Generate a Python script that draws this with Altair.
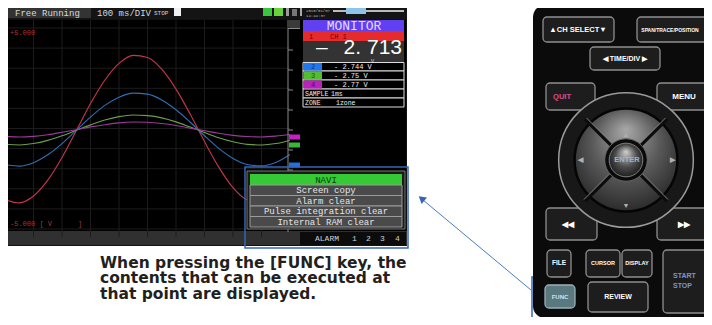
import altair as alt
import pandas as pd

# ---------------- data ----------------
time_ms = [0, 50, 100, 150, 200, 250, 300, 350, 400, 450, 500,
           550, 600, 650, 700, 750, 800, 850, 900, 950, 1000]
ch1_v = [-3.54, -3.70, -3.36, -2.57, -1.44, -0.11, 1.24, 2.40, 3.24, 3.64, 3.53,
         2.95, 1.96, 0.71, -0.65, -1.92, -2.94, -3.56, -3.70, -3.34, -2.53]
ch2_v = [-1.79, -1.87, -1.70, -1.31, -0.75, -0.09, 0.57, 1.15, 1.56, 1.76, 1.71,
         1.42, 0.93, 0.31, -0.36, -0.99, -1.49, -1.79, -1.86, -1.69, -1.29]
ch3_v = [-0.79, -0.82, -0.75, -0.59, -0.36, -0.09, 0.18, 0.42, 0.59, 0.67, 0.64,
         0.53, 0.33, 0.07, -0.20, -0.46, -0.66, -0.79, -0.82, -0.75, -0.58]
ch4_v = [-0.40, -0.42, -0.39, -0.31, -0.19, -0.06, 0.08, 0.19, 0.28, 0.32, 0.31,
         0.25, 0.15, 0.02, -0.11, -0.24, -0.34, -0.40, -0.42, -0.38, -0.30]
channels = ["CH1", "CH2", "CH3", "CH4"]
trace_colors = ["#c8364a", "#2f6fb5", "#6a9f4a", "#9a3a9a"]
grid_ms = [100, 200, 300, 400, 500, 600, 700, 800, 900]
grid_v = [-4, -3, -2, -1, 0, 1, 2, 3, 4]

menu_items = ["NAVI", "Screen copy", "Alarm clear", "Pulse integration clear", "Internal RAM clear"]
monitor_main = "2. 713"
monitor_rows = ["- 2.744  V", "- 2.75  V", "- 2.77  V"]
alarm_labels = ["ALARM", "1", "2", "3", "4"]
caption_lines = ["When pressing the [FUNC] key, the",
                 "contents that can be executed at",
                 "that point are displayed."]

# ---------------- scales (picture pixels -> chart pixels) ----------------
W, H = 696, 309
PX = alt.Scale(domain=[0, 712], range=[-8, 704])
PY = alt.Scale(domain=[0, 325], range=[-8, 317])
TX = alt.Scale(domain=[0, 1000], range=[-3, 282])
TY = alt.Scale(domain=[-5, 5], range=[221, 20])


def rects(rows, corner=0):
    df = pd.DataFrame(rows, columns=["x", "y", "x2", "y2", "fill", "stroke", "sw"])
    return alt.Chart(df).mark_rect(cornerRadius=corner).encode(
        x=alt.X("x:Q", scale=PX, axis=None), x2="x2:Q",
        y=alt.Y("y:Q", scale=PY, axis=None), y2="y2:Q",
        fill=alt.Fill("fill:N", scale=None),
        stroke=alt.Stroke("stroke:N", scale=None),
        strokeWidth=alt.StrokeWidth("sw:Q", scale=None))


def rules(rows):
    df = pd.DataFrame(rows, columns=["x", "y", "x2", "y2", "color", "sw"])
    return alt.Chart(df).mark_rule().encode(
        x=alt.X("x:Q", scale=PX, axis=None), x2="x2:Q",
        y=alt.Y("y:Q", scale=PY, axis=None), y2="y2:Q",
        color=alt.Color("color:N", scale=None),
        strokeWidth=alt.StrokeWidth("sw:Q", scale=None))


def texts(rows, font, weight="normal", align="left", baseline="middle"):
    df = pd.DataFrame(rows, columns=["x", "y", "text", "color", "size"])
    return alt.Chart(df).mark_text(font=font, fontWeight=weight, align=align, baseline=baseline).encode(
        x=alt.X("x:Q", scale=PX, axis=None), y=alt.Y("y:Q", scale=PY, axis=None),
        text="text:N", color=alt.Color("color:N", scale=None),
        size=alt.Size("size:Q", scale=None))


def circles(rows, fill, stroke, sw):
    df = pd.DataFrame(rows, columns=["x", "y", "area"])
    return alt.Chart(df).mark_circle(fill=fill, stroke=stroke, strokeWidth=sw, opacity=1).encode(
        x=alt.X("x:Q", scale=PX, axis=None), y=alt.Y("y:Q", scale=PY, axis=None),
        size=alt.Size("area:Q", scale=None))


T = "transparent"
MONO = "Liberation Mono"
SANS = "Liberation Sans"

# ---------------- screen ----------------
screen_bg = rects([
    (4, 1, 407, 246, "#111111", T, 0),
    (4, 1, 407, 19, "#141414", T, 0),
    (6, 3, 91, 18, "#333333", T, 0),
    (174, 8, 181, 16, "#f0f0f0", T, 0),
    (5, 20, 287, 231, "#000000", T, 0),
    (287, 20, 302, 231, "#000000", T, 0),
    (287, 20, 300, 28, "#3a3a3a", T, 0),
    (302, 20, 406, 231, "#000000", T, 0),
    (4, 231, 407, 245, "#303030", T, 0),
    (300, 232, 406, 245, "#0c0c0c", T, 0),
    (303, 20, 404, 31, "#6040f0", T, 0),
    (303, 31, 404, 41, "#e52b2b", T, 0),
    (303, 41, 404, 62, "#333333", T, 0),
    (303, 62.5, 404, 71, "#000000", "#dddddd", 1),
    (303, 71, 404, 80, "#000000", "#dddddd", 1),
    (303, 80, 404, 89, "#000000", "#dddddd", 1),
    (303, 89, 404, 98, "#000000", "#dddddd", 1),
    (303, 98, 404, 107, "#000000", "#dddddd", 1),
    (304, 63, 322, 70.5, "#2277ee", T, 0),
    (304, 71.5, 322, 79.5, "#55bb33", T, 0),
    (304, 80.5, 322, 88.5, "#bb22bb", T, 0),
    (263, 8, 272, 16, "#3cc43c", T, 0),
    (274, 8, 283, 16, "#66d43a", T, 0),
    (286, 8, 289, 16, "#999999", T, 0),
    (292, 9, 297, 16, "#777777", T, 0),
    (300, 8, 302, 16, "#aaaaaa", T, 0),
    (333, 10, 404, 12, "#bbbbbb", T, 0),
    (346, 8, 366, 14, "#8ec3ec", T, 0),
])

grid_df = pd.DataFrame(
    [{"t": g, "t2": g, "v": -5.4, "v2": 5.4} for g in grid_ms] +
    [{"t": -20, "t2": 1000, "v": g, "v2": g} for g in grid_v + [-5, 5]])
grid = alt.Chart(grid_df).mark_rule(color="#1c1c1c", strokeWidth=1).encode(
    x=alt.X("t:Q", scale=TX, axis=None), x2="t2:Q",
    y=alt.Y("v:Q", scale=TY, axis=None), y2="v2:Q")

wave_df = pd.DataFrame({
    "t": time_ms * 4,
    "v": ch1_v + ch2_v + ch3_v + ch4_v,
    "ch": [c for c in channels for _ in time_ms],
})
wave_layers = []
for ch, col in zip(channels, trace_colors):
    wave_layers.append(
        alt.Chart(wave_df).transform_filter(alt.datum.ch == ch)
        .mark_line(color=col, strokeWidth=1.1, interpolate="monotone")
        .encode(x=alt.X("t:Q", scale=TX, axis=None), y=alt.Y("v:Q", scale=TY, axis=None)))

ruler = rules(
    [(288, 28, 288, 232, "#8a8a8a", 1), (288, 28.5, 300, 28.5, "#8a8a8a", 1)] +
    [(288, yy, 293, yy, "#8a8a8a", 1) for yy in [50, 70, 90, 110, 130, 150, 170, 190, 210]])

markers = rects([
    (289, 134.5, 300, 139.5, "#c81ec8", T, 0),
    (289, 142.5, 300, 147.5, "#3cb43c", T, 0),
    (289, 162.5, 300, 167.5, "#2070e0", T, 0),
])

menu = rects([
    (247, 171, 405, 229, "#1a1a1a", "#777777", 1),
    (250, 174, 402, 185, "#36c936", T, 0),
    (250, 185, 402, 195.5, "#4a4a4a", "#9a9a9a", 1),
    (250, 195.5, 402, 206, "#4a4a4a", "#9a9a9a", 1),
    (250, 206, 402, 216.5, "#4a4a4a", "#9a9a9a", 1),
    (250, 216.5, 402, 227, "#4a4a4a", "#9a9a9a", 1),
])

menu_y = [179.5, 190.3, 200.8, 211.3, 221.8]
menu_text = texts(
    [(326, yy, s, "#0a3a0a" if i == 0 else "#e6e6e6", 9)
     for i, (s, yy) in enumerate(zip(menu_items, menu_y))],
    MONO, align="center")

alarm_x = [315, 352, 366, 380, 395]
screen_text = texts([
    (15, 13, "Free Running", "#d8d8d8", 9),
    (97, 13, "100 ms/DIV", "#d8d8d8", 9),
    (154, 13, "STOP", "#d0d0d0", 6),
    (306, 11, "2015/01/07", "#bbbbbb", 4),
    (306, 16, "14:44:37", "#bbbbbb", 4),
    (10, 33, "+5.000", "#b83030", 7),
    (10, 224, "-5.000 [ V", "#b83030", 7),
    (78, 224, "]", "#b83030", 7),
    (309, 36.5, "1", "#7a0000", 7),
    (330, 36.5, "CH 1", "#7a0000", 7),
    (371, 61, "V", "#dddddd", 5),
    (311, 67, "2", "#10308a", 7),
    (311, 75.5, "3", "#1a5a10", 7),
    (311, 84.5, "4", "#5a0a5a", 7),
    (334, 67, monitor_rows[0], "#eeeeee", 7),
    (334, 75.5, monitor_rows[1], "#eeeeee", 7),
    (334, 84.5, monitor_rows[2], "#eeeeee", 7),
    (305, 93.5, "SAMPLE", "#eeeeee", 6.5),
    (331, 93.5, "1ms", "#eeeeee", 6.5),
    (305, 102.5, "ZONE", "#eeeeee", 6.5),
    (336, 102.5, "1zone", "#eeeeee", 6.5),
] + [(xx, 239, s, "#d0d0d0", 8) for xx, s in zip(alarm_x, alarm_labels)], MONO)

monitor_title = texts([(354, 25.5, "MONITOR", "#e6ddff", 13)], MONO, align="center")
monitor_big = texts([(402, 54, monitor_main, "#ffffff", 21)], SANS, align="right", baseline="alphabetic")
monitor_dash = texts([(316, 54, "–", "#ffffff", 21)], SANS, align="left", baseline="alphabetic")

outlines = rects([
    (245, 167, 408, 248, T, "#3565b5", 1.5),
    (532, 277, 583, 340, T, "#3565b5", 1.5),
])
pointer = rules([(531, 290, 423, 200, "#4a7cc0", 1)])
head_df = pd.DataFrame([{"x": 421.5, "y": 198.5}])
pointer_head = alt.Chart(head_df).mark_point(
    shape="triangle-up", filled=True, color="#3565b5", size=70, angle=310, opacity=1).encode(
    x=alt.X("x:Q", scale=PX, axis=None), y=alt.Y("y:Q", scale=PY, axis=None))

# ---------------- button panel ----------------
panel = rects([(533, 5, 724, 318, "#0b0b0b", T, 0)], corner=12)
BF, BS = "#1d1d1d", "#8f8f8f"
buttons = rects([
    (543, 17, 614, 42, BF, BS, 1.3),
    (637, 17, 711, 42, BF, BS, 1.3),
    (590, 47, 660, 70, BF, BS, 1.3),
    (546, 83, 595, 110, BF, BS, 1.3),
    (657, 83, 710, 110, BF, BS, 1.3),
    (546, 208, 597, 240, BF, BS, 1.3),
    (657, 208, 709, 240, BF, BS, 1.3),
    (547, 250, 571, 277, BF, BS, 1.3),
    (586, 250, 620, 277, BF, BS, 1.3),
    (622, 250, 652, 277, BF, BS, 1.3),
    (663, 250, 708, 313, BF, BS, 1.3),
    (545, 285, 575, 308, "#5a7880", "#9ab0b4", 1.3),
    (588, 282, 648, 312, BF, BS, 1.3),
], corner=4)

ring = circles([(626, 160, 3.1416 * 76 ** 2)], "#181818", "#9a9a9a", 1.5)
disc_grad = alt.RadialGradient(
    gradient="radial", x1=0.5, y1=0.2, r1=0.0, x2=0.5, y2=0.45, r2=0.65,
    stops=[alt.GradientStop(color="#a8a8a8", offset=0),
           alt.GradientStop(color="#5a5a5a", offset=0.5),
           alt.GradientStop(color="#1e1e1e", offset=1)])
disc = circles([(626, 160, 3.1416 * 58 ** 2)], disc_grad, "#050505", 2.5)
diagonals = rules([
    (585, 119, 667, 201, "#0c0c0c", 3.5),
    (667, 119, 585, 201, "#0c0c0c", 3.5),
    (586.5, 118, 668, 199.5, "#a0a0a0", 0.8),
    (665.5, 118, 584, 199.5, "#a0a0a0", 0.8),
])
enter_back = circles([(626, 160, 3.1416 * 24 ** 2)], "#0a0a0a", "#666666", 1)
enter_grad = alt.RadialGradient(
    gradient="radial", x1=0.5, y1=0.25, r1=0.0, x2=0.5, y2=0.5, r2=0.6,
    stops=[alt.GradientStop(color="#d0d0d0", offset=0),
           alt.GradientStop(color="#4a4a4a", offset=0.55),
           alt.GradientStop(color="#111111", offset=1)])
enter = circles([(626, 160, 3.1416 * 19 ** 2)], enter_grad, "#808080", 1)

button_text = texts([
    (578, 30, "▲CH SELECT▼", "#ffffff", 7.5),
    (670, 30, "SPAN/TRACE/POSITION", "#ffffff", 5),
    (625, 59, "◀  TIME/DIV  ▶", "#ffffff", 7),
    (562, 97, "QUIT", "#e04a8a", 7.5),
    (684, 97, "MENU", "#ffffff", 8),
    (626, 135, "▲", "#b0b0b0", 7),
    (626, 206, "▼", "#b0b0b0", 7),
    (580, 160, "◀", "#b0b0b0", 7),
    (672, 160, "▶", "#b0b0b0", 7),
    (627, 160, "ENTER", "#9ab4d8", 7.5),
    (568, 225, "◀◀", "#ffffff", 8),
    (684, 225, "▶▶", "#ffffff", 8),
    (559, 263, "FILE", "#ffffff", 6.5),
    (603, 263, "CURSOR", "#ffffff", 5.5),
    (637, 263, "DISPLAY", "#ffffff", 5.5),
    (560, 297, "FUNC", "#d0e4ee", 6),
    (618, 297, "REVIEW", "#ffffff", 7),
], SANS, weight="bold", align="center")
start_text = texts([
    (673, 276, "START", "#7896d0", 7),
    (673, 286, "STOP", "#7896d0", 7),
], SANS, weight="bold", align="left")

caption = texts(
    [(100, yy, s, "#231f20", 15.5) for s, yy in zip(caption_lines, [267.5, 283, 298.5])],
    "DejaVu Sans", weight="bold", align="left", baseline="alphabetic")

chart = alt.layer(
    screen_bg, grid, *wave_layers, ruler, markers, menu, menu_text, screen_text,
    monitor_title, monitor_big, monitor_dash, outlines, pointer, pointer_head,
    panel, buttons, ring, disc, diagonals, enter_back, enter, button_text, start_text,
    caption,
).resolve_scale(x="independent", y="independent").properties(
    width=W, height=H, padding=0, autosize=alt.AutoSizeParams(type="none"),
    background="white",
).configure_view(stroke=None)

chart.save("out.html", embed_options={"renderer": "svg", "actions": False})
